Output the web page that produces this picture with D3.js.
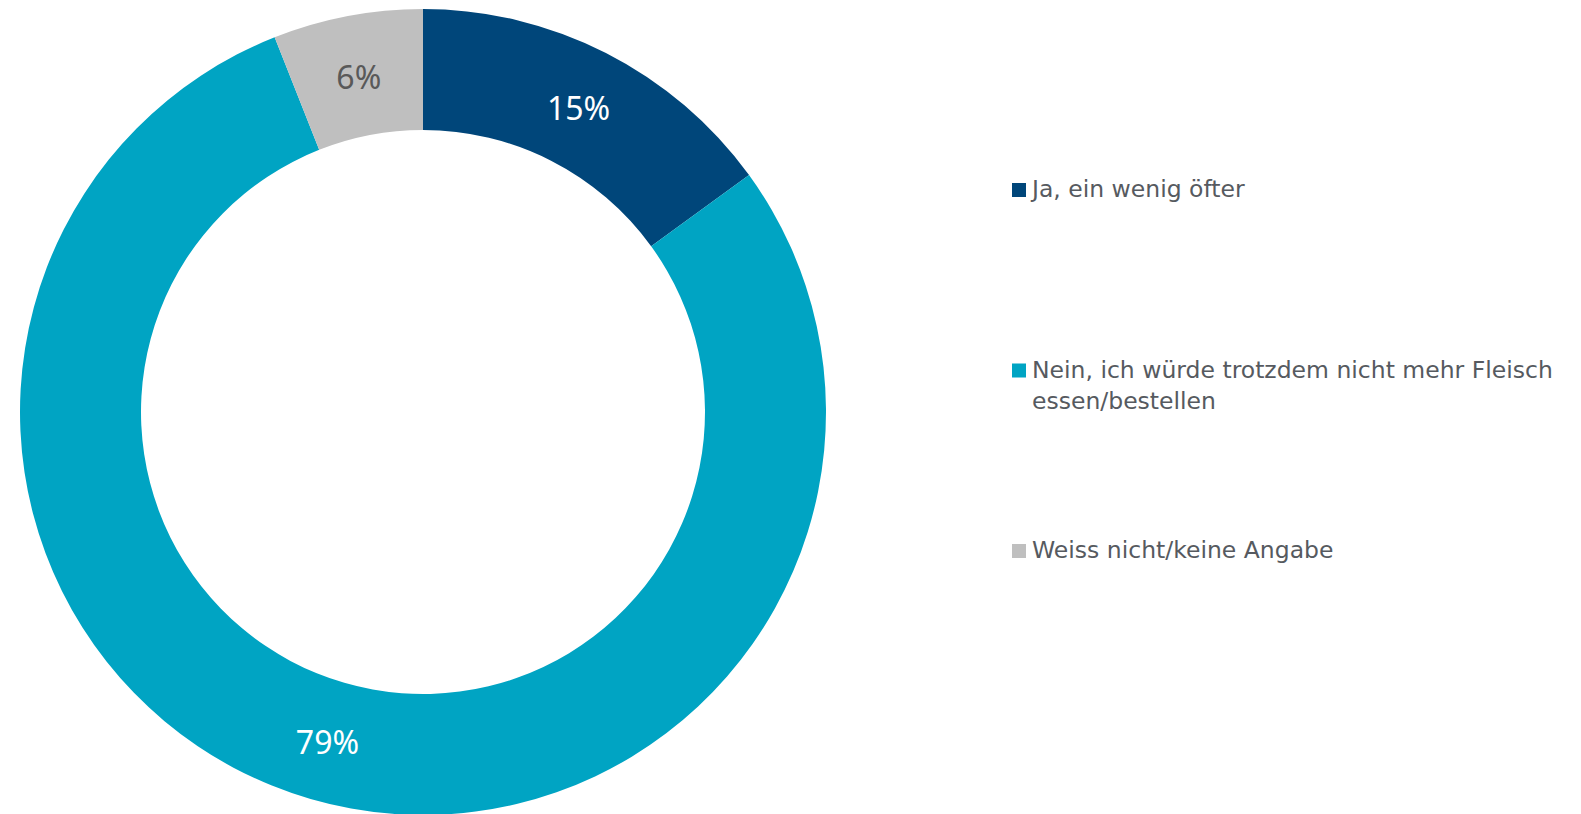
<!DOCTYPE html>
<meta charset="utf-8">
<style>
body { margin: 0; background: #fff; }
.label { font-family: "Noto Sans", "Open Sans", sans-serif; font-size: 32px; }
.legend text { font-family: "DejaVu Sans", sans-serif; font-size: 23.5px; fill: #565a60; }
</style>
<body>
<script src="https://d3js.org/d3.v7.min.js"></script>
<script>

var categories = ["Ja, ein wenig öfter",
                  "Nein, ich würde trotzdem nicht mehr Fleisch essen/bestellen",
                  "Weiss nicht/keine Angabe"];
var legendLines = [["Ja, ein wenig öfter"],
                   ["Nein, ich würde trotzdem nicht mehr Fleisch", "essen/bestellen"],
                   ["Weiss nicht/keine Angabe"]];
var values = [15, 79, 6];
var colors = ["#00467a", "#00a4c3", "#bfbfbf"];
var labelColors = ["#ffffff", "#ffffff", "#595959"];

var width = 1581,
    height = 814,
    cx = 423,
    cy = 412,
    outer = 403,
    inner = 282;

var svg = d3.select("body").append("svg")
    .attr("width", width)
    .attr("height", height);

var data = categories.map(function(c, i) { return {name: c, value: values[i], i: i}; });

var pie = d3.pie()
    .sort(null)
    .value(function(d) { return d.value; });

var arc = d3.arc()
    .innerRadius(inner)
    .outerRadius(outer);

var g = svg.append("g")
    .attr("transform", "translate(" + cx + "," + cy + ")");

var arcs = pie(data);

g.selectAll("path")
    .data(arcs)
  .enter().append("path")
    .attr("d", arc)
    .attr("fill", function(d) { return colors[d.data.i]; });

g.selectAll("text")
    .data(arcs)
  .enter().append("text")
    .attr("class", "label")
    .attr("transform", function(d) { return "translate(" + arc.centroid(d) + ")"; })
    .attr("text-anchor", "middle")
    .attr("dy", "0.42em")
    .attr("fill", function(d) { return labelColors[d.data.i]; })
    .text(function(d) { return d.data.value + "%"; });

// legend
var legendY = d3.scalePoint()
    .domain(d3.range(categories.length))
    .range([197, 558]);

var legend = svg.append("g")
    .attr("class", "legend")
  .selectAll("g")
    .data(data)
  .enter().append("g")
    .attr("transform", function(d) { return "translate(1012," + legendY(d.i) + ")"; });

legend.append("rect")
    .attr("x", 0)
    .attr("y", -14)
    .attr("width", 14)
    .attr("height", 14)
    .attr("fill", function(d) { return colors[d.i]; });

legend.append("text")
    .attr("x", 20)
    .selectAll("tspan")
    .data(function(d) { return legendLines[d.i]; })
  .enter().append("tspan")
    .attr("x", 20)
    .attr("dy", function(d, j) { return j ? 31 : 0; })
    .text(function(d) { return d; });

</script>
